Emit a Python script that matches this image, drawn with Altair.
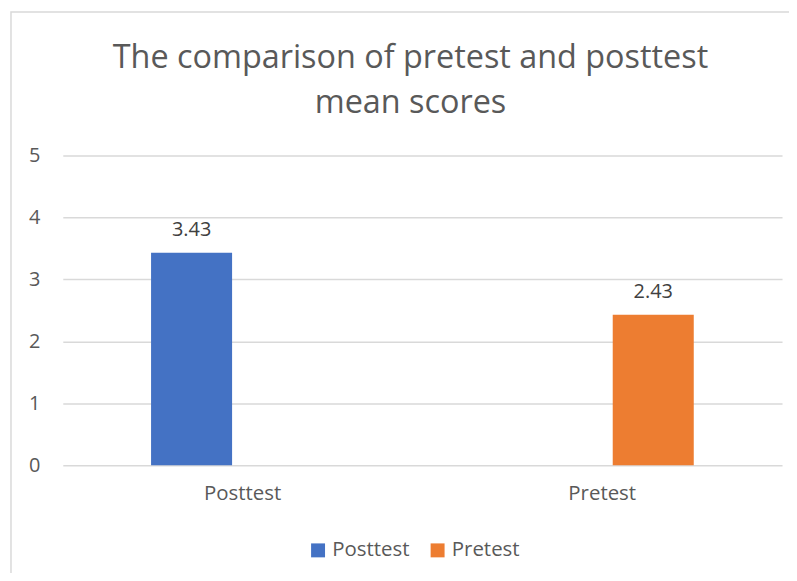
import altair as alt
import pandas as pd

categories = ["Posttest", "Pretest"]
series = ["Posttest", "Pretest"]
values = [3.43, 2.43]
colors = ["#4472C4", "#ED7D31"]
y_ticks = [0, 1, 2, 3, 4, 5]

df = pd.DataFrame({"category": categories, "series": series, "value": values})
df["label"] = df["value"].map(lambda v: f"{v:.2f}")

FONT = "Open Sans"
GREY = "#595959"

x_enc = alt.X("category:N", sort=categories,
              scale=alt.Scale(paddingInner=0, paddingOuter=0),
              axis=alt.Axis(title=None, labelAngle=0, domain=False, ticks=False,
                            labelPadding=18, labelFontSize=20.5, labelColor=GREY,
                            labelFont=FONT))
xoff_enc = alt.XOffset("series:N", sort=series,
                       scale=alt.Scale(paddingInner=0.206, paddingOuter=0.865))
y_enc = alt.Y("value:Q", scale=alt.Scale(domain=[0, 5], nice=False),
              axis=alt.Axis(title=None, values=y_ticks, format="d", domain=False,
                            ticks=False, grid=True, gridColor="#d9d9d9", gridWidth=1.5,
                            labelPadding=23, labelFontSize=20, labelColor=GREY,
                            labelFont=FONT))

border = alt.Chart(alt.Data(values=[{}])).mark_rect(
    fill=None, stroke="#d9d9d9", strokeWidth=1.5
).encode(x=alt.value(-52), x2=alt.value(760), y=alt.value(-144), y2=alt.value(500))

base = alt.Chart(df)

bars = base.mark_bar().encode(
    x=x_enc, xOffset=xoff_enc, y=y_enc,
    color=alt.Color("series:N", sort=series,
                    scale=alt.Scale(domain=series, range=colors),
                    legend=alt.Legend(title=None, orient="none", direction="horizontal",
                                      legendX=246, legendY=386,
                                      symbolType="square", symbolSize=196,
                                      symbolStrokeWidth=0, symbolOpacity=1,
                                      labelFontSize=20.5, labelColor=GREY, labelFont=FONT,
                                      labelOffset=4, columnPadding=17))
)

labels = base.mark_text(baseline="alphabetic", dy=-17, fontSize=20, color="#404040",
                        font=FONT).encode(
    x=alt.X("category:N", sort=categories), xOffset=alt.XOffset("series:N", sort=series),
    y="value:Q", text="label:N"
)

chart = alt.layer(border, bars, labels).properties(
    width=722, height=311,
    title=alt.TitleParams(["The comparison of pretest and posttest", "mean scores"],
                          anchor="middle", dx=-12, offset=0, dy=135, baseline="alphabetic",
                          fontSize=32.5, fontWeight="normal", color=GREY, font=FONT,
                          lineHeight=46),
    autosize=alt.AutoSizeParams(type="none"),
    padding={"left": 55, "top": 147, "right": 7, "bottom": 107},
).configure(background="white").configure_view(stroke=None)

chart.save("out.html", embed_options={"renderer": "svg", "actions": False})
